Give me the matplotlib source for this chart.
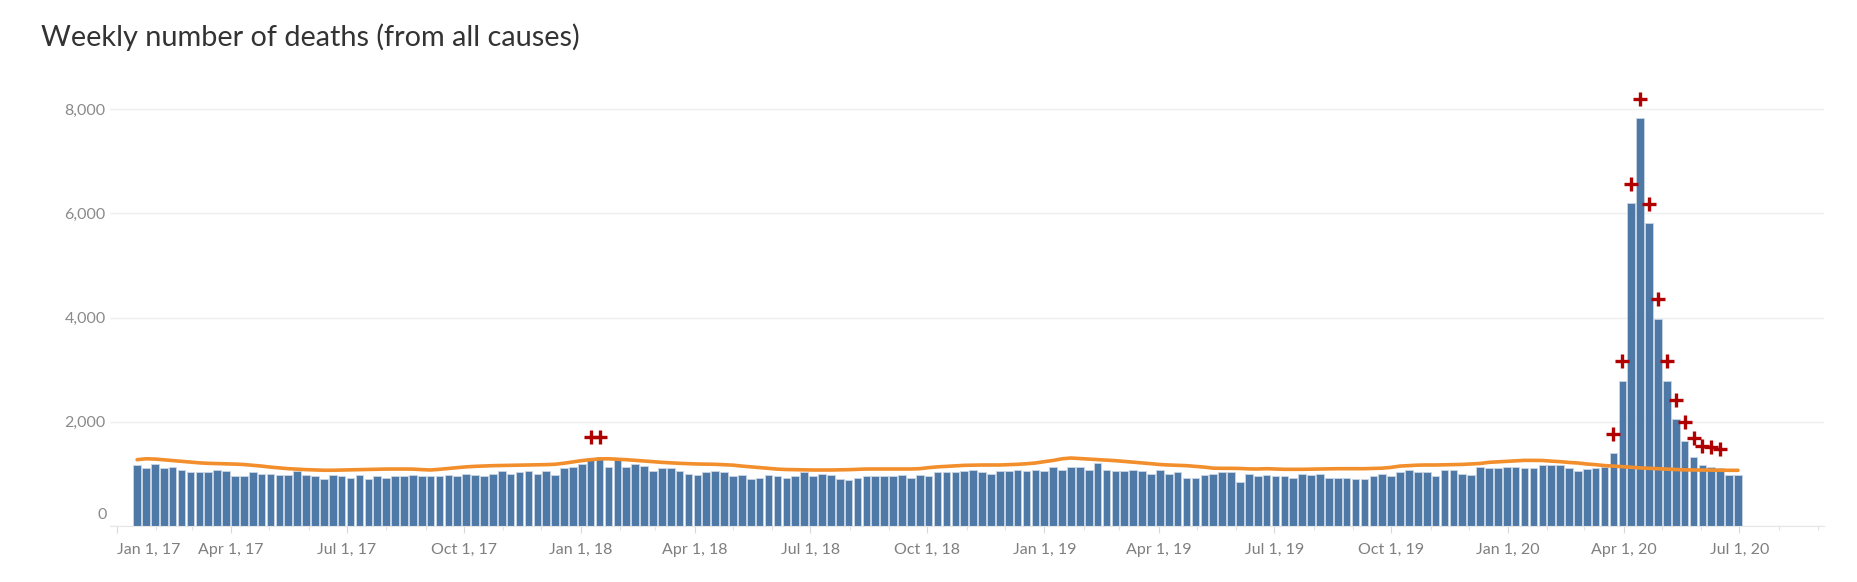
#!/usr/bin/env python3
"""Weekly number of deaths (from all causes), Jan 2017 - Jul 2020."""
import matplotlib
matplotlib.use("Agg")
import matplotlib.pyplot as plt
import matplotlib.dates as mdates
import numpy as np
import pandas as pd

# weekly deaths, one bar per week (first week centred on 2017-01-17)
first_week = "2017-01-17"
deaths = [
    1164, 1107, 1190, 1107, 1132, 1081, 1030, 1030, 1030, 1081,
    1056, 954, 954, 1030, 1005, 1005, 979, 979, 1056, 979,
    954, 903, 979, 954, 928, 979, 903, 954, 928, 954,
    954, 979, 954, 954, 954, 979, 954, 1005, 979, 954,
    1005, 1056, 1005, 1030, 1056, 1005, 1056, 979, 1107, 1132,
    1183, 1311, 1324, 1132, 1260, 1132, 1183, 1158, 1056, 1107,
    1107, 1056, 1005, 979, 1030, 1056, 1030, 954, 979, 903,
    928, 979, 954, 928, 954, 1030, 954, 1005, 979, 903,
    877, 928, 954, 954, 954, 954, 979, 928, 979, 954,
    1030, 1030, 1030, 1056, 1081, 1030, 1005, 1056, 1056, 1081,
    1056, 1081, 1056, 1132, 1081, 1132, 1132, 1081, 1209, 1081,
    1056, 1056, 1081, 1056, 1005, 1081, 1005, 1030, 928, 928,
    979, 1005, 1030, 1030, 852, 1005, 954, 979, 954, 954,
    928, 1005, 979, 1005, 928, 928, 928, 903, 903, 954,
    1005, 954, 1030, 1081, 1030, 1030, 954, 1081, 1081, 1005,
    979, 1139, 1113, 1113, 1139, 1139, 1113, 1113, 1164, 1164,
    1164, 1113, 1062, 1088, 1113, 1139, 1400, 2790, 6205, 7832,
    5815, 3978, 2790, 2045, 1625, 1317, 1164, 1139, 1120, 983,
    977,
]

# smoothed expected weekly deaths (orange line)
expected = [
    1273, 1290, 1285, 1270, 1255, 1240, 1225, 1212, 1203, 1198,
    1195, 1188, 1180, 1165, 1150, 1130, 1115, 1100, 1090, 1082,
    1075, 1070, 1070, 1074, 1078, 1082, 1086, 1090, 1093, 1094,
    1094, 1092, 1082, 1075, 1088, 1105, 1120, 1135, 1145, 1152,
    1158, 1161, 1164, 1168, 1171, 1175, 1178, 1185, 1205, 1230,
    1255, 1273, 1288, 1290, 1282, 1273, 1260, 1247, 1235, 1222,
    1212, 1203, 1196, 1190, 1187, 1184, 1176, 1168, 1150, 1135,
    1120, 1105, 1092, 1084, 1081, 1078, 1075, 1075, 1075, 1078,
    1081, 1088, 1094, 1094, 1094, 1094, 1094, 1094, 1100, 1120,
    1135, 1145, 1155, 1164, 1168, 1171, 1171, 1171, 1178, 1184,
    1195, 1209, 1235, 1258, 1290, 1305, 1295, 1285, 1273, 1265,
    1254, 1240, 1228, 1212, 1196, 1180, 1171, 1165, 1158, 1145,
    1130, 1110, 1107, 1107, 1104, 1096, 1094, 1100, 1094, 1088,
    1088, 1088, 1092, 1094, 1097, 1100, 1100, 1100, 1100, 1104,
    1110, 1125, 1150, 1160, 1168, 1171, 1171, 1174, 1177, 1182,
    1190, 1200, 1222, 1232, 1241, 1252, 1260, 1260, 1258, 1245,
    1235, 1220, 1209, 1190, 1177, 1160, 1150, 1138, 1128, 1115,
    1107, 1100, 1090, 1081, 1077, 1075, 1073, 1071, 1069, 1069,
    1069,
]

# weeks flagged with a red "+" (week index, marker value)
flag_weeks = [51, 52, 166, 167, 168, 169, 170, 171, 172, 173, 174, 175, 176, 177, 178]
flag_values = [1700, 1700, 1764, 3161, 6568, 8195, 6186, 4348, 3161, 2415,
               2000, 1688, 1527, 1516, 1483]

y_ticks = [0, 2000, 4000, 6000, 8000]
title = "Weekly number of deaths (from all causes)"

FONT = ["Lato", "DejaVu Sans"]
plt.rcParams["font.family"] = FONT

weeks = pd.date_range(first_week, periods=len(deaths), freq="7D")
flag_dates = weeks[flag_weeks]

fig = plt.figure(figsize=(18.57, 5.82), dpi=100)
ax = fig.add_axes([110 / 1857, 56 / 582, 1714 / 1857, 464 / 582])

ax.bar(weeks, deaths, width=6.0, color="#4e79a7", edgecolor="#c9d6e5",
       linewidth=0.6, zorder=2)
ax.plot(weeks, expected, color="#f28e2b", linewidth=2.6, zorder=3,
        solid_capstyle="round")
ax.plot(flag_dates, flag_values, linestyle="none", marker="+",
        markersize=10, markeredgewidth=2.4, color="#b00000", zorder=4)

# axes ranges
ax.set_ylim(0, 8906)
ax.set_xlim(pd.Timestamp("2016-12-26 16:00"), pd.Timestamp("2020-09-05 17:00"))

# y axis: gridlines only, 0 label lifted off the baseline like Tableau
ax.set_yticks(y_ticks, labels=[""] + [f"{v:,}" for v in y_ticks[1:]])
ax.tick_params(axis="y", length=0, pad=3, labelsize=11.5, labelcolor="#8a8a8a")
ax.grid(axis="y", color="#eeeeee", linewidth=1.0, zorder=0)
ax.annotate("0", xy=(0, 0), xycoords=("axes fraction", "data"),
            xytext=(-3, 11), textcoords="offset pixels", ha="right",
            va="center", fontsize=11.5, color="#8a8a8a")

# x axis: quarterly labels, monthly minor ticks
quarters = pd.date_range("2017-01-01", "2020-07-01", freq="QS")
ax.set_xticks(quarters, labels=[f"{d:%b} {d.day}, {d:%y}" for d in quarters])
ax.xaxis.set_minor_locator(mdates.MonthLocator())
ax.tick_params(axis="x", which="major", length=5, width=0.8, color="#d9d9d9",
               pad=7, labelsize=11.5, labelcolor="#7f7f7f")
ax.tick_params(axis="x", which="minor", length=3, width=0.8, color="#e3e3e3")
ax.get_xticklabels()[0].set_horizontalalignment("left")

for side in ["top", "right", "left"]:
    ax.spines[side].set_visible(False)
ax.spines["bottom"].set_color("#e6e6e6")
ax.spines["bottom"].set_linewidth(0.8)

fig.text(41 / 1857, 1 - 37 / 582, title, ha="left", va="center",
         fontsize=20.8, color="#333333")

fig.savefig("out.png", dpi=100)
